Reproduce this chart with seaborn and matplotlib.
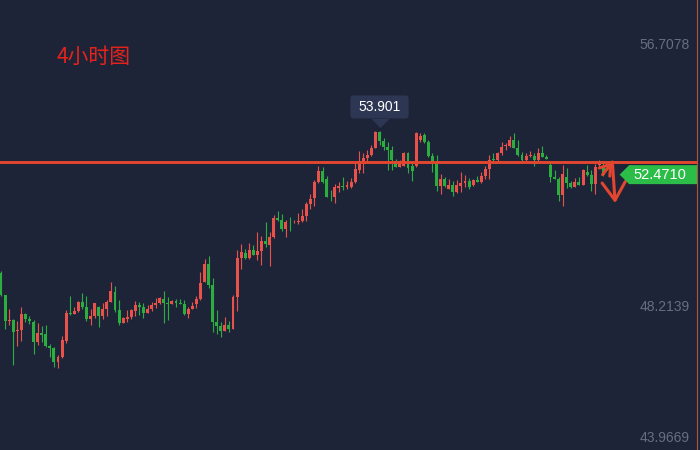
# %%
import numpy as np
import pandas as pd
import matplotlib
matplotlib.use('Agg')
import matplotlib.pyplot as plt
import matplotlib.transforms as mtransforms
from matplotlib.path import Path
from matplotlib.patches import BoxStyle
import seaborn as sns

# %%
# 4h candles (oldest first)
opens = [49.28, 48.57, 47.73, 47.76, 47.41, 47.43, 47.95, 47.79, 47.70, 47.04,
         47.34, 47.31, 46.92, 46.85, 46.40, 46.56, 47.08, 47.98, 47.95, 48.05,
         48.34, 48.18, 47.79, 47.89, 48.18, 47.89, 48.11, 48.34, 48.67, 48.08,
         47.66, 47.79, 47.86, 48.05, 48.24, 48.18, 47.98, 48.11, 48.24, 48.31,
         48.44, 48.31, 48.28, 48.38, 48.31, 48.28, 47.95, 48.11, 48.28, 48.44,
         48.99, 49.58, 48.89, 47.70, 47.57, 47.40, 47.60, 47.47, 48.51, 49.77,
         49.93, 49.77, 50.03, 49.87, 49.99, 50.32, 50.19, 50.45, 51.07, 51.00,
         50.71, 50.94, 50.92, 50.94, 50.97, 51.13, 51.52, 51.72, 52.23, 52.59,
         52.33, 51.75, 51.75, 52.04, 52.10, 52.07, 52.07, 52.23, 52.62, 52.91,
         53.01, 53.11, 53.33, 53.85, 53.56, 53.37, 53.27, 52.91, 52.72, 52.75,
         53.17, 52.75, 52.75, 53.59, 53.76, 53.53, 53.07, 52.85, 52.10, 52.33,
         52.01, 52.14, 51.91, 52.10, 52.20, 52.27, 52.14, 52.30, 52.23, 52.43,
         52.66, 52.98, 52.95, 53.17, 53.40, 53.40, 53.59, 53.33, 53.11, 52.95,
         53.09, 53.07, 52.95, 53.17, 53.04, 52.79, 52.40, 52.33, 51.81, 52.40,
         52.20, 52.07, 52.23, 52.14, 52.56, 52.46, 52.17, 52.79, 52.75]
highs = [49.35, 48.58, 48.11, 47.79, 47.73, 48.18, 47.98, 47.89, 47.76, 47.66,
         47.57, 47.60, 46.98, 46.88, 46.63, 47.24, 48.08, 48.54, 48.18, 48.38,
         48.64, 48.54, 48.11, 48.31, 48.21, 48.31, 48.41, 48.99, 48.86, 48.41,
         47.86, 48.08, 48.11, 48.38, 48.34, 48.31, 48.24, 48.34, 48.47, 48.51,
         48.70, 48.51, 48.41, 48.44, 48.44, 48.41, 48.18, 48.34, 48.54, 49.32,
         49.74, 49.84, 49.12, 48.08, 47.70, 47.86, 47.73, 48.57, 50.03, 50.22,
         50.06, 50.26, 50.19, 50.61, 50.48, 50.94, 50.61, 51.16, 51.29, 51.20,
         51.00, 51.10, 51.00, 51.23, 51.36, 51.59, 51.84, 52.30, 52.75, 52.72,
         52.43, 51.97, 52.17, 52.23, 52.40, 52.27, 52.36, 52.85, 53.24, 53.17,
         53.27, 53.43, 53.89, 53.901, 53.66, 53.53, 53.40, 52.98, 52.95, 53.21,
         53.21, 52.85, 53.86, 53.82, 53.82, 53.59, 53.17, 53.11, 52.49, 52.40,
         52.33, 52.27, 52.30, 52.56, 52.46, 52.36, 52.33, 52.43, 52.56, 52.75,
         53.11, 53.17, 53.21, 53.53, 53.50, 53.72, 53.82, 53.59, 53.21, 53.17,
         53.24, 53.17, 53.33, 53.40, 53.11, 52.85, 52.62, 52.40, 52.79, 52.69,
         52.27, 52.36, 52.40, 52.66, 52.79, 52.62, 52.82, 52.95, 52.88]
lows = [48.54, 47.46, 47.60, 46.30, 46.92, 47.08, 47.70, 47.63, 46.66, 46.95,
        47.04, 46.88, 46.56, 46.24, 46.21, 46.54, 47.01, 47.92, 47.94, 48.02,
        48.11, 47.73, 47.60, 47.82, 47.53, 47.79, 47.89, 48.33, 48.02, 47.60,
        47.65, 47.70, 47.79, 47.89, 47.92, 47.82, 47.97, 48.05, 48.15, 48.28,
        47.66, 47.76, 48.27, 48.18, 48.28, 47.92, 47.82, 48.10, 48.15, 48.41,
        48.98, 48.80, 47.37, 47.31, 47.21, 47.39, 47.37, 47.46, 48.05, 49.41,
        49.74, 49.74, 49.87, 49.70, 49.54, 50.13, 49.51, 50.42, 50.97, 50.65,
        50.45, 50.65, 50.90, 50.87, 50.94, 50.97, 51.36, 51.46, 52.20, 52.20,
        51.74, 51.62, 51.55, 51.91, 51.97, 52.01, 52.04, 52.20, 52.53, 52.53,
        52.88, 53.07, 53.32, 53.43, 53.27, 52.62, 52.62, 52.71, 52.71, 52.74,
        52.53, 52.27, 52.72, 53.53, 53.50, 53.04, 52.56, 51.94, 51.84, 52.07,
        52.00, 51.78, 51.88, 51.91, 52.07, 52.01, 52.10, 52.22, 52.20, 52.33,
        52.33, 52.88, 52.91, 53.11, 53.27, 53.37, 53.32, 53.07, 52.88, 52.91,
        53.04, 52.75, 52.88, 53.03, 52.97, 52.23, 52.32, 51.62, 51.46, 52.04,
        52.04, 52.06, 52.13, 52.13, 52.43, 51.94, 51.84, 52.72, 52.43]
closes = [48.57, 47.73, 47.76, 47.37, 47.44, 47.95, 47.79, 47.73, 47.04, 47.34,
          47.27, 46.92, 46.85, 46.40, 46.56, 47.11, 47.98, 47.95, 48.05, 48.34,
          48.18, 47.79, 47.89, 48.31, 47.89, 48.11, 48.34, 48.70, 48.08, 47.66,
          47.82, 47.86, 48.08, 48.24, 48.18, 47.98, 48.11, 48.24, 48.31, 48.47,
          48.31, 48.29, 48.38, 48.31, 48.29, 47.95, 48.11, 48.21, 48.44, 48.96,
          49.58, 48.89, 47.70, 47.57, 47.40, 47.60, 47.47, 48.51, 49.77, 49.96,
          49.77, 50.03, 49.87, 49.99, 50.32, 50.22, 50.45, 51.07, 51.00, 50.71,
          50.94, 50.92, 50.94, 50.97, 51.13, 51.52, 51.68, 52.23, 52.59, 52.23,
          51.75, 51.73, 52.07, 52.10, 52.08, 52.14, 52.23, 52.66, 52.91, 53.01,
          53.11, 53.33, 53.85, 53.56, 53.37, 53.27, 52.95, 52.72, 52.91, 53.17,
          52.69, 52.59, 53.82, 53.72, 53.53, 53.07, 52.88, 52.10, 52.33, 52.10,
          52.14, 51.91, 52.14, 52.20, 52.27, 52.07, 52.30, 52.23, 52.43, 52.66,
          52.95, 52.96, 53.17, 53.37, 53.43, 53.59, 53.33, 53.11, 52.95, 53.07,
          53.11, 52.95, 53.17, 53.04, 52.98, 52.40, 52.33, 51.81, 52.49, 52.20,
          52.07, 52.23, 52.14, 52.62, 52.46, 52.17, 52.72, 52.85, 52.471]

ytick_values = [43.9669, 48.2139, 56.7078]
ytick_labels = ['43.9669', '48.2139', '56.7078']
resistance = 52.88      # drawn horizontal line
target = 51.55          # where the down arrow ends
peak_label = '53.901'
last_label = '52.4710'
title = '4小时图'

# %%
df = pd.DataFrame({'open': opens, 'high': highs, 'low': lows, 'close': closes})
df['bar'] = np.arange(len(df))
df['up'] = df['close'] >= df['open']

colors = {
    'bg': '#1e2438',
    'up': '#e8524a',
    'down': '#2bad3f',
    'line': '#e2462e',
    'axis': '#666e81',
    'tip': '#2d3652',
    'tag': '#2cbc48',
    'edge': '#b0553a',
}
df['color'] = np.where(df['up'], colors['up'], colors['down'])

sns.set_theme(style='dark', rc={'axes.facecolor': colors['bg'], 'figure.facecolor': colors['bg']})
plt.rcParams['font.family'] = ['Liberation Sans', 'DejaVu Sans']

fig = plt.figure(figsize=(7, 4.5), dpi=100)
ax = fig.add_axes([0, 0, 697 / 700, 1])
ax.set_facecolor(colors['bg'])

# wicks + bodies
ax.vlines(df['bar'], df['low'], df['high'], color=df['color'], lw=0.8, zorder=2)
body_lo = df[['open', 'close']].min(axis=1)
body_h = (df['close'] - df['open']).abs().clip(lower=0.025)
ax.bar(df['bar'], body_h, bottom=body_lo, width=0.72, color=df['color'], linewidth=0, zorder=3)

ax.axhline(resistance, color=colors['line'], lw=2.1, zorder=4)


# tooltip over the highest high: rounded box, wider than tall
def tip_box(x0, y0, width, height, mutation_size):
    rounded = BoxStyle.Round(pad=0, rounding_size=3 / mutation_size)
    return rounded(x0 - 8, y0 - 4.5, width + 16, height + 9, mutation_size)


i_peak = int(df['high'].idxmax())
ax.annotate(peak_label, xy=(i_peak, df['high'][i_peak]), xytext=(0, 17), textcoords='offset points',
            ha='center', va='center', color='white', fontsize=10, zorder=6,
            bbox=dict(boxstyle=tip_box, fc=colors['tip'], ec='none'))
tri = Path([(-1, 0), (1, 0), (0, -1), (-1, 0)], closed=True)
shift = mtransforms.ScaledTranslation(0, 8 / 72, fig.dpi_scale_trans)
ax.plot([i_peak], [df['high'][i_peak]], marker=tri, ms=11, color=colors['tip'], ls='none',
        transform=ax.transData + shift, zorder=6)


# price tag shaped like a pentagon pointing left
def tag_box(x0, y0, width, height, mutation_size):
    left, right, vpad = 4, 11, 2.5
    xa, xb = x0 - left, x0 + width + right
    ya, yb = y0 - vpad, y0 + height + vpad
    tip = (yb - ya) / 2
    return Path([(xa, ya), (xb, ya), (xb, yb), (xa, yb), (xa - tip, (ya + yb) / 2), (xa, ya)], closed=True)


ax.annotate(last_label, xy=(1, df['close'].iloc[-1]), xycoords=('axes fraction', 'data'),
            xytext=(-11, 0), textcoords='offset pixels', ha='right', va='center',
            color='white', fontsize=10.5, zorder=7,
            bbox=dict(boxstyle=tag_box, fc=colors['tag'], ec='none'))

# hand drawn arrows at the end
last = df['bar'].iloc[-1]
ax.annotate('', xy=(last + 2.2, resistance), xytext=(last - 0.2, df['close'].iloc[-1]),
            arrowprops=dict(arrowstyle='->,head_length=0.6,head_width=0.4', color=colors['line'],
                            lw=2.2, mutation_scale=12, shrinkA=0, shrinkB=0), zorder=5)
ax.annotate('', xy=(last + 2.9, target), xytext=(last + 2.2, resistance),
            arrowprops=dict(arrowstyle='->,head_length=0.65,head_width=0.42', color=colors['line'],
                            lw=2.2, mutation_scale=20, shrinkA=0, shrinkB=0), zorder=5)

ax.set_xlim(-0.246, 171.0)
ax.set_ylim(43.545, 58.132)
ax.grid(False)
ax.set_xticks([])
ax.yaxis.tick_right()
ax.set_yticks(ytick_values, ytick_labels)
ax.tick_params(axis='y', length=0, pad=-5, labelsize=10, labelcolor=colors['axis'])
for lbl in ax.get_yticklabels():
    lbl.set_horizontalalignment('right')
for side in ['top', 'left', 'bottom']:
    ax.spines[side].set_visible(False)
ax.spines['right'].set_color(colors['edge'])
ax.spines['right'].set_linewidth(0.8)

fig.text(57 / 700, 1 - 56.5 / 450, title, color='#e8221b', fontsize=15, va='center', ha='left',
         family=['Noto Sans CJK SC', 'DejaVu Sans'])

plt.savefig('out.png', dpi=100)
